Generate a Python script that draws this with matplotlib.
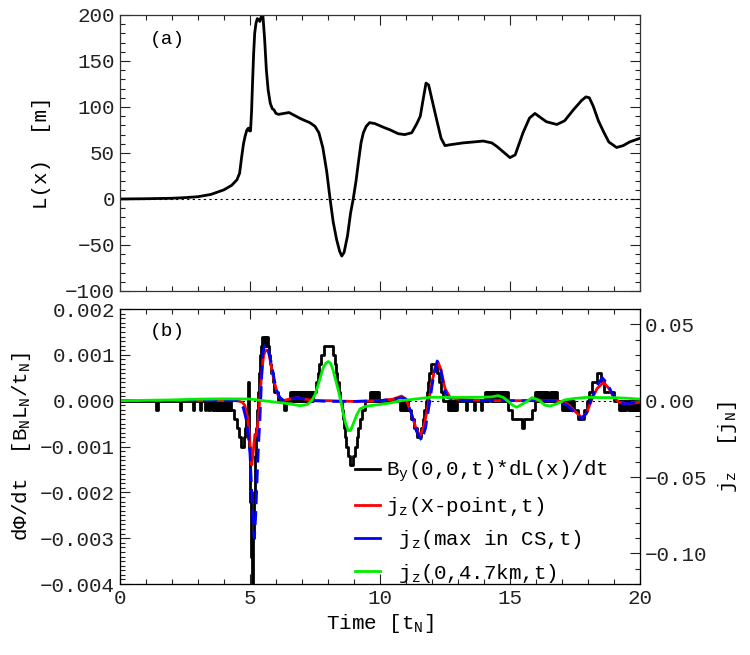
import numpy as np
import matplotlib
matplotlib.use("Agg")
import matplotlib.pyplot as plt
from matplotlib.lines import Line2D
from matplotlib.ticker import MultipleLocator

plt.rcParams['font.family'] = ['Liberation Mono', 'DejaVu Sans Mono']
plt.rcParams['mathtext.default'] = 'regular'

# panel (a): L(x) [m] vs time
t_L = [0, 1, 2, 2.5, 3, 3.5, 4, 4.3, 4.5, 4.6, 4.68, 4.75, 4.81, 4.88, 4.94,
       4.98, 5.02, 5.06, 5.10, 5.14, 5.18, 5.23, 5.28, 5.33, 5.38, 5.42, 5.46,
       5.5, 5.56, 5.63, 5.7, 5.78, 5.86, 5.92, 6.0, 6.1, 6.3, 6.5, 6.7, 6.9,
       7.05, 7.3, 7.5, 7.65, 7.8, 7.95, 8.08, 8.2, 8.33, 8.45, 8.53, 8.62, 8.75,
       8.87, 8.97, 9.08, 9.17, 9.27, 9.36, 9.47, 9.6, 9.8, 10.13, 10.4, 10.7,
       10.95, 11.22, 11.4, 11.55, 11.67, 11.77, 11.87, 12.0, 12.18, 12.35, 12.5,
       12.7, 13.2, 13.6, 13.97, 14.3, 14.5, 14.75, 15.0, 15.2, 15.5, 15.75,
       15.96, 16.2, 16.4, 16.8, 17.1, 17.44, 17.75, 17.92, 18.05, 18.2, 18.4,
       18.6, 18.8, 19.1, 19.35, 19.6, 20]
L_x = [0, 0.3, 0.8, 1.5, 2.5, 5, 10, 15, 21, 28, 46, 60, 68, 75, 77,
       74, 74, 95, 128, 158, 180, 191, 196, 195, 193, 197, 200,
       198, 175, 140, 118, 104, 98, 97, 93, 92, 93, 94, 91, 88,
       86, 83, 79, 72, 56, 30, 0, -25, -44, -57, -62, -58, -40,
       -15, 0, 20, 40, 61, 72, 79, 83, 82, 78, 75, 71,
       70, 72, 81, 90, 110, 126, 124, 108, 86, 66, 58,
       59, 61, 62, 63, 61, 57, 51, 45, 48, 72, 88,
       93, 88, 84, 81, 85, 97, 107, 111, 110, 101, 85,
       73, 62, 56, 58, 62, 66]

# panel (b): By*dL/dt in units of 1e-3 B_N L_N / t_N (step-like)
t_black = [0, 1.40, 1.46, 2.30, 2.36, 2.80, 2.86, 3.06, 3.12, 3.25, 3.31, 3.40, 3.46,
           3.53, 3.58, 3.63, 3.68, 3.72, 3.76, 3.80, 3.84, 3.88, 3.92, 3.96, 4.00,
           4.04, 4.08, 4.12, 4.16, 4.20, 4.24, 4.28,
           4.40, 4.50, 4.58, 4.66, 4.76, 4.81, 4.85, 4.89, 4.93, 4.98, 5.01, 5.04,
           5.07, 5.12, 5.15, 5.18, 5.22, 5.27, 5.31, 5.35, 5.39, 5.43, 5.48, 5.53,
           5.57, 5.62, 5.66, 5.70, 5.74, 5.78, 5.82, 5.87, 5.94, 6.08, 6.32, 6.38,
           6.55, 6.60, 6.64, 6.68, 6.72, 6.76, 6.80, 6.84, 6.88, 6.92, 6.96, 7.00,
           7.04, 7.08, 7.12, 7.16, 7.20, 7.24, 7.28, 7.32, 7.36, 7.40, 7.44,
           7.52, 7.60, 7.67, 7.74, 7.84, 8.20, 8.26, 8.31, 8.36, 8.42, 8.48, 8.53,
           8.57, 8.61, 8.66, 8.71, 8.77, 8.83, 8.95, 9.03, 9.10, 9.16, 9.23, 9.31,
           9.42, 9.60, 9.64, 9.68, 9.72, 9.76, 9.80, 9.84, 9.88, 9.92, 9.98,
           10.76, 10.80, 10.84, 10.88, 10.92, 10.96, 11.00, 11.04, 11.08,
           11.18, 11.30, 11.42, 11.58, 11.64, 11.70, 11.75, 11.80, 11.85, 11.90,
           11.96, 12.18, 12.27, 12.35, 12.44,
           12.60, 12.64, 12.68, 12.72, 12.76, 12.80, 12.84, 12.88, 12.92, 12.96,
           13.30, 13.35, 13.62, 13.67, 13.88, 13.93,
           14.05, 14.09, 14.13, 14.17, 14.21, 14.25, 14.29, 14.33, 14.37, 14.41,
           14.45, 14.49, 14.53, 14.57, 14.61, 14.65, 14.69, 14.73, 14.77, 14.81,
           14.85, 14.92, 15.08, 15.45, 15.55, 15.85,
           15.96, 16.00, 16.04, 16.08, 16.12, 16.16, 16.20, 16.24, 16.28, 16.32,
           16.36, 16.40, 16.44, 16.48, 16.52, 16.56, 16.60, 16.64, 16.68, 16.72,
           16.76, 16.82,
           17.00, 17.04, 17.08, 17.12, 17.16, 17.20, 17.24, 17.28, 17.32, 17.36,
           17.40, 17.44, 17.48, 17.55, 17.62, 17.85, 17.95, 18.03, 18.15, 18.36,
           18.50, 18.60, 19.00,
           19.20, 19.24, 19.28, 19.32, 19.36, 19.40, 19.44, 19.48, 19.52, 19.56,
           19.60, 19.64, 19.68, 19.72, 19.76, 19.80, 19.84, 19.88, 19.92, 19.96, 20.0]
v_black = [0, -0.2, 0, -0.2, 0, -0.2, 0, -0.2, 0, -0.2, 0, -0.2, 0,
           -0.2, 0, -0.2, 0, -0.2, 0, -0.2, 0, -0.2, 0, -0.2, 0,
           -0.2, 0, -0.2, 0, -0.2, 0, -0.2,
           -0.4, -0.6, -0.8, -1.0, -0.8, -0.6, -0.4, -0.2, 0.4, -1.0, -2.2, -3.4,
           -4.0, -3.0, -2.0, -1.2, -0.6, -0.2, 0.2, 0.6, 1.0, 1.2, 1.4, 1.2,
           1.4, 1.2, 1.4, 1.2, 1.0, 0.8, 0.6, 0.4, 0.2, 0.0, -0.2, 0.0,
           0.2, 0, 0.2, 0, 0.2, 0, 0.2, 0, 0.2, 0, 0.2, 0,
           0.2, 0, 0.2, 0, 0.2, 0, 0.2, 0, 0.2, 0, 0.2,
           0.4, 0.6, 0.8, 1.0, 1.2, 1.0, 0.8, 0.6, 0.4, 0.2, 0.0, -0.2,
           -0.4, -0.6, -0.8, -1.0, -1.2, -1.4, -1.2, -1.0, -0.8, -0.6, -0.4, -0.2,
           0.0, 0.2, 0, 0.2, 0, 0.2, 0, 0.2, 0, 0.2, 0,
           -0.2, 0, -0.2, 0, -0.2, 0, -0.2, 0, -0.2,
           -0.4, -0.6, -0.8, -0.6, -0.4, -0.2, 0.0, 0.2, 0.4, 0.6,
           0.8, 0.6, 0.4, 0.2, 0.0,
           -0.2, 0, -0.2, 0, -0.2, 0, -0.2, 0, -0.2, 0,
           -0.2, 0, -0.2, 0, -0.2, 0,
           0.2, 0, 0.2, 0, 0.2, 0, 0.2, 0, 0.2, 0,
           0.2, 0, 0.2, 0, 0.2, 0, 0.2, 0, 0.2, 0,
           0.2, -0.2, -0.4, -0.6, -0.4, -0.2,
           0.2, 0, 0.2, 0, 0.2, 0, 0.2, 0, 0.2, 0,
           0.2, 0, 0.2, 0, 0.2, 0, 0.2, 0, 0.2, 0,
           0.2, 0,
           -0.2, 0, -0.2, 0, -0.2, 0, -0.2, 0, -0.2, 0,
           -0.2, 0, -0.2, -0.2, -0.4, -0.2, 0, 0.2, 0.4, 0.6,
           0.4, 0.2, 0,
           -0.2, 0, -0.2, 0, -0.2, 0, -0.2, 0, -0.2, 0,
           -0.2, 0, -0.2, 0, -0.2, 0, -0.2, 0, -0.2, 0, -0.2]

# current densities, units of 1e-2 j_N
t_red = [0, 4.5, 4.7, 4.8, 4.9, 4.97, 5.03, 5.07, 5.12, 5.19, 5.25, 5.31, 5.38,
         5.45, 5.52, 5.58, 5.64, 5.71, 5.78, 5.9, 6.0, 6.09, 6.28, 6.5, 6.8, 7.1,
         7.5, 8.0, 9.0, 10.0, 10.5, 10.83, 11.0, 11.2, 11.4, 11.55, 11.7, 11.85,
         12.0, 12.12, 12.24, 12.35, 12.5, 12.7, 13.0, 14.0, 15.0, 16.0, 16.8,
         17.2, 17.5, 17.76, 17.95, 18.15, 18.35, 18.6, 18.8, 19.0, 19.2, 19.5, 20]
j_xpoint = [0, 0, -0.1, -0.3, -1.0, -2.2, -3.6, -4.2, -3.4, -2.2, -2.3, -1.4, 0.2,
            1.8, 2.9, 3.25, 3.3, 3.2, 2.6, 1.5, 0.8, 0.3, 0, 0.1, 0.2, 0.1,
            0, 0, -0.05, 0, 0.1, 0.3, 0.1, -0.8, -1.9, -2.3, -1.6, -0.3,
            1.2, 2.2, 2.5, 2.0, 0.8, 0.2, 0.1, 0, 0, 0, 0,
            -0.2, -0.7, -1.1, -0.8, 0.1, 0.8, 1.2, 0.8, 0.2, -0.1, -0.2, -0.1]

t_blue = [0, 4.5, 4.74, 4.85, 4.93, 5.0, 5.05, 5.09, 5.13, 5.17, 5.22, 5.28, 5.33,
          5.38, 5.44, 5.49, 5.56, 5.64, 5.72, 5.83, 5.93, 6.03, 6.15, 6.3, 6.5,
          6.8, 7.1, 7.5, 8.0, 9.0, 10.0, 10.5, 10.83, 11.0, 11.2, 11.4, 11.6,
          11.75, 11.9, 12.05, 12.2, 12.32, 12.45, 12.6, 12.8, 13.0, 14.0, 15.0,
          16.0, 16.8, 17.2, 17.5, 17.76, 17.95, 18.15, 18.35, 18.55, 18.75,
          18.95, 19.15, 19.4, 20]
j_maxcs = [0, 0, -0.45, -1.2, -2.2, -3.5, -5.3, -7.0, -8.4, -9.0, -7.5, -4.8, -2.8,
           -1.3, 1.2, 3.06, 3.6, 3.7, 3.2, 2.4, 1.4, 0.65, 0.2, 0, 0.1,
           0.2, 0.1, 0, -0.05, -0.05, 0, 0.1, 0.2, 0.1, -0.8, -2.0, -2.6,
           -1.8, -0.2, 1.5, 2.6, 2.2, 0.9, 0.2, 0.1, 0, 0, 0,
           0, 0, -0.3, -0.8, -1.2, -0.8, 0.2, 1.0, 1.5, 1.1,
           0.4, -0.1, -0.2, -0.1]

t_green = [0, 2, 3, 4, 5, 5.5, 6.0, 6.5, 6.92, 7.2, 7.37, 7.5, 7.63, 7.72, 7.82,
           7.92, 8.01, 8.1, 8.2, 8.3, 8.4, 8.5, 8.59, 8.68, 8.78, 8.87, 8.97, 9.1,
           9.23, 9.4, 9.6, 10.0, 10.4, 10.8, 11.28, 11.92, 12.5, 13.2, 13.85, 14.3,
           14.55, 14.75, 14.9, 15.1, 15.26, 15.45, 15.64, 15.85, 16.1, 16.35,
           16.55, 16.8, 17.1, 17.5, 18.0, 18.5, 19.0, 19.5, 20]
j_47km = [0, 0.05, 0.1, 0.12, 0.11, 0.0, -0.1, -0.2, -0.33, -0.25, 0, 0.4, 1.09,
          1.6, 2.17, 2.45, 2.56, 2.45, 1.96, 1.3, 0.65, -0.1, -0.87, -1.5, -1.96,
          -1.95, -1.52, -0.95, -0.54, -0.4, -0.33, -0.25, -0.15, 0, 0.09, 0.22,
          0.22, 0.22, 0.22, 0.25, 0.33, 0.2, 0, -0.3, -0.43, -0.25, -0.06, 0.2,
          0.05, -0.3, -0.35, -0.2, 0.05, 0.15, 0.22, 0.2, 0.2, 0.16, 0.1]

labels = ['B$_y$(0,0,t)*dL(x)/dt', 'j$_z$(X-point,t)',
          ' j$_z$(max in CS,t)', ' j$_z$(0,4.7km,t)']

FS = 15
W, H = 750, 655


def style_axis(ax, right=True):
    ax.tick_params(which='both', direction='in', top=True, right=right,
                   labelsize=FS, colors='#222222')
    ax.tick_params(which='major', length=7, width=0.8)
    ax.tick_params(which='minor', length=3.5, width=0.8)
    for s in ax.spines.values():
        s.set_linewidth(0.9)
        s.set_color('#333333')


fig = plt.figure(figsize=(W / 100, H / 100), dpi=100)
ax1 = fig.add_axes([120 / W, 1 - 291 / H, 520 / W, 276 / H])
ax2 = fig.add_axes([120 / W, 1 - 584 / H, 520 / W, 275 / H])

# --- panel (a)
ax1.plot(t_L, L_x, color='black', lw=2.0)
ax1.axhline(0, color='black', lw=0.8, ls=(0, (2, 3)))
ax1.set_xlim(0, 20)
ax1.set_ylim(-100, 200)
ax1.xaxis.set_major_locator(MultipleLocator(5))
ax1.xaxis.set_minor_locator(MultipleLocator(1))
ax1.yaxis.set_major_locator(MultipleLocator(50))
ax1.yaxis.set_minor_locator(MultipleLocator(10))
ax1.set_xticklabels([])
style_axis(ax1)
ax1.set_ylabel('L(x)  [m]', fontsize=FS, labelpad=10)
ax1.text(0.058, 0.91, '(a)', transform=ax1.transAxes, fontsize=FS - 1, va='center')

# --- panel (b)
ax2.plot(t_black, np.array(v_black) * 1e-3, color='black', lw=2.0,
         drawstyle='steps-post')
ax2.axhline(0, color='black', lw=0.8, ls=(0, (2, 3)))
ax2.set_xlim(0, 20)
ax2.set_ylim(-0.004, 0.002)
ax2.xaxis.set_major_locator(MultipleLocator(5))
ax2.xaxis.set_minor_locator(MultipleLocator(1))
ax2.yaxis.set_major_locator(MultipleLocator(0.001))
ax2.yaxis.set_minor_locator(MultipleLocator(0.0001))
ax2.yaxis.set_major_formatter(lambda v, p: f'{v:.3f}'.replace('-', '\u2212') if abs(v) > 1e-9 else '0.000')
style_axis(ax2, right=False)
ax2.set_ylabel('dΦ/dt  [B$_N$L$_N$/t$_N$]', fontsize=FS, labelpad=5)
ax2.set_xlabel('Time [t$_N$]', fontsize=FS, labelpad=3)
ax2.text(0.058, 0.917, '(b)', transform=ax2.transAxes, fontsize=FS - 1, va='center')

ax3 = ax2.twinx()
ax3.plot(t_red, np.array(j_xpoint) * 1e-2, color='#ff0000', lw=2.0)
ax3.plot(t_blue, np.array(j_maxcs) * 1e-2, color='#0000ff', lw=2.0, dashes=(5, 2.5))
ax3.plot(t_green, np.array(j_47km) * 1e-2, color='#00ee00', lw=2.0)
ax3.set_ylim(-0.12, 0.06)
ax3.yaxis.set_major_locator(MultipleLocator(0.05))
ax3.yaxis.set_minor_locator(MultipleLocator(0.01))
ax3.yaxis.set_major_formatter(lambda v, p: f'{v:.2f}'.replace('-', '\u2212') if abs(v) > 1e-9 else '0.00')
ax3.tick_params(which='both', direction='in', labelsize=FS, colors='#222222')
ax3.tick_params(which='major', length=7, width=0.8)
ax3.tick_params(which='minor', length=3.5, width=0.8)
ax3.set_ylabel('j$_z$  [j$_N$]', fontsize=FS, labelpad=6)

handles = [Line2D([], [], color='black', lw=2.0),
           Line2D([], [], color='#ff0000', lw=2.0),
           Line2D([], [], color='#0000ff', lw=2.0),
           Line2D([], [], color='#00ee00', lw=2.0)]
ax3.legend(handles, labels, loc='upper left', bbox_to_anchor=(235 / 520, 1 - 150 / 275),
           frameon=False, fontsize=FS, handlelength=1.2, handletextpad=0.3,
           labelspacing=0.5, borderpad=0, borderaxespad=0)

fig.savefig('out.png', dpi=100)
